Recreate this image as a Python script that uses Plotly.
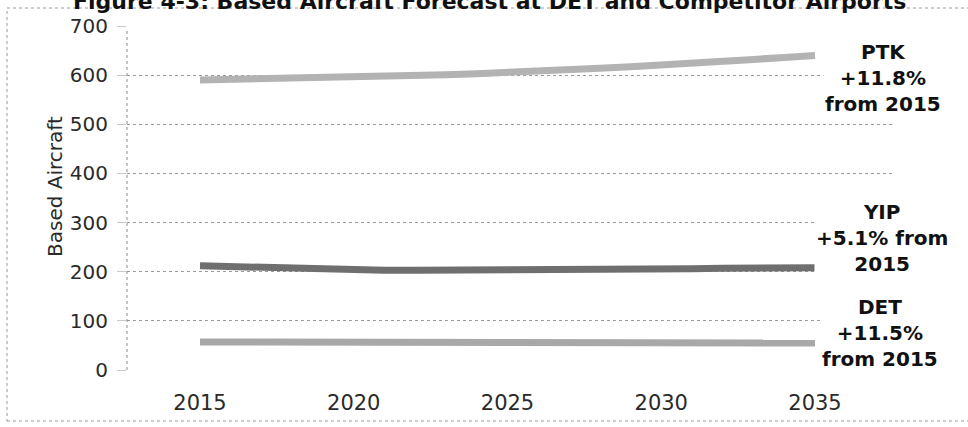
import plotly.graph_objects as go

# Forecast years and based-aircraft counts per airport
years = list(range(2015, 2036))
ptk = [590, 591, 592, 593, 594, 595, 597, 599, 601, 603, 605,
       608, 611, 614, 617, 620, 624, 628, 632, 636, 640]
yip = [212, 210, 208, 206, 204, 203, 203, 203, 203, 204, 204,
       204, 205, 205, 205, 206, 206, 207, 207, 208, 208]
det = [57, 57, 57, 57, 56, 56, 56, 56, 56, 56, 56,
       56, 56, 55, 55, 55, 55, 55, 55, 55, 55]

series_names = ["PTK", "YIP", "DET"]
series_notes = ["PTK<br>+11.8%<br>from 2015",
                "YIP<br>+5.1% from<br>2015",
                "DET<br>+11.5%<br>from 2015"]
x_ticks = [2015, 2020, 2025, 2030, 2035]
y_ticks = [0, 100, 200, 300, 400, 500, 600, 700]
title_text = "Figure 4-3: Based Aircraft Forecast at DET and Competitor Airports"
y_title = "Based Aircraft"

# plot-area geometry (pixels)
W, H = 968, 427
L, R, T, B = 127, 75, 26, 57
PW, PH = W - L - R, H - T - B


def px(xp):
    return (xp - L) / PW


def py(yp):
    return (H - B - yp) / PH


line_styles = {
    "PTK": dict(color="#b3b3b3", width=7),
    "YIP": dict(color="#6f6f6f", width=7),
    "DET": dict(color="#a8a8a8", width=7),
}

fig = go.Figure()
for name, vals in zip(series_names, [ptk, yip, det]):
    fig.add_trace(go.Scatter(x=years, y=vals, mode="lines", name=name,
                             line=line_styles[name], showlegend=False))

fig.update_layout(
    width=W, height=H,
    margin=dict(l=L, r=R, t=T, b=B),
    paper_bgcolor="white", plot_bgcolor="white",
    font=dict(family="DejaVu Sans", color="#2a2a2a"),
)

fig.update_xaxes(
    range=[2015 - 73 / 30.75, 2035 + 78 / 30.75],
    tickvals=x_ticks, ticktext=[str(v) for v in x_ticks],
    showgrid=False, zeroline=False, showline=False, ticks="",
    tickfont=dict(size=21, color="#2a2a2a"), ticklabelstandoff=18,
)
fig.update_yaxes(
    range=[0, 700], tickvals=y_ticks,
    showgrid=True, gridcolor="#9a9a9a", griddash="dot", gridwidth=1,
    zeroline=False, showline=False,
    ticks="outside", ticklen=9, tickcolor="#c8c8c8",
    tickfont=dict(size=20, color="#2a2a2a"), ticklabelstandoff=5,
)

# dotted value axis line and dotted outer frame
fig.add_shape(type="line", xref="paper", yref="paper", x0=0, x1=0, y0=0, y1=py(28),
              line=dict(color="#8c8c8c", width=1, dash="dot"))
fig.add_shape(type="rect", xref="paper", yref="paper",
              x0=px(7), x1=px(990), y0=py(421), y1=py(8),
              line=dict(color="#9a9a9a", width=1, dash="dot"))

# chart title (runs off the top edge)
fig.add_annotation(text=title_text, xref="paper", yref="paper",
                   x=px(489), y=py(16), xanchor="center", yanchor="bottom",
                   showarrow=False,
                   font=dict(family="DejaVu Sans", size=22, color="#111", weight="bold"))

# value axis title
fig.add_annotation(text=y_title, xref="paper", yref="paper",
                   x=px(55), y=py(187), xanchor="center", yanchor="middle",
                   textangle=-90, showarrow=False,
                   font=dict(family="DejaVu Sans", size=20, color="#2a2a2a"))

# growth notes at the right end of each series
note_pos = [(883, 78), (882, 238), (880, 333)]
for note, (nx, ny) in zip(series_notes, note_pos):
    fig.add_annotation(text=note, xref="paper", yref="paper",
                       x=px(nx), y=py(ny), xanchor="center", yanchor="middle",
                       showarrow=False, bgcolor="white", align="center",
                       font=dict(family="DejaVu Sans", size=20, color="#111", weight="bold"))

fig.write_html("out.html")
